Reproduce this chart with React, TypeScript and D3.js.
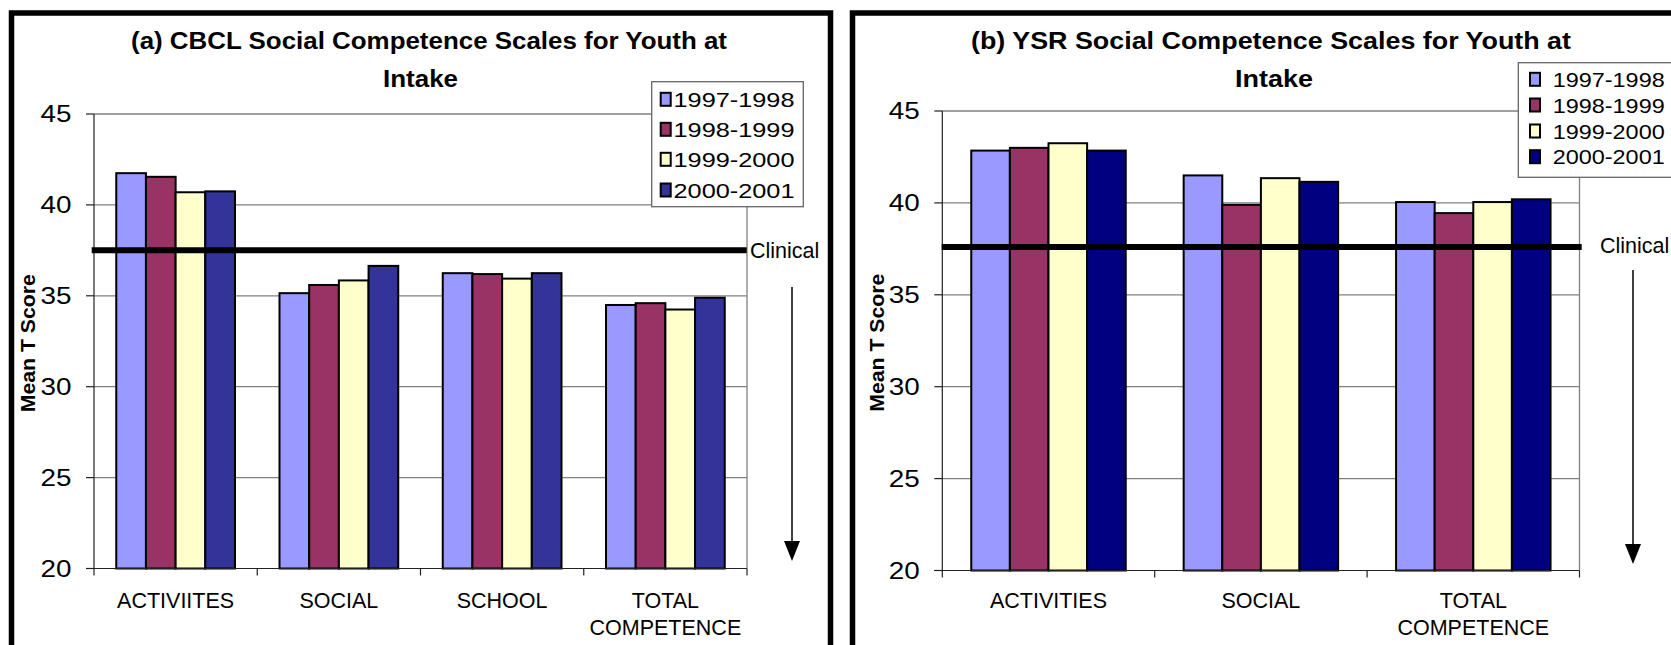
import React from 'react';
import * as d3 from 'd3';

// ---------- data ----------
const seriesNames = ['1997-1998', '1998-1999', '1999-2000', '2000-2001'];

const categoriesA = ['ACTIVIITES', 'SOCIAL', 'SCHOOL', 'TOTAL COMPETENCE'];
const a1997 = [41.8, 35.2, 36.3, 34.55];
const a1998 = [41.6, 35.65, 36.25, 34.65];
const a1999 = [40.75, 35.9, 36.0, 34.3];
const a2000 = [40.8, 36.7, 36.3, 34.95];
const clinicalA = 37.5;

const categoriesB = ['ACTIVITIES', 'SOCIAL', 'TOTAL COMPETENCE'];
const b1997 = [42.9, 41.55, 40.1];
const b1998 = [43.05, 39.95, 39.5];
const b1999 = [43.3, 41.4, 40.1];
const b2000 = [42.9, 41.2, 40.25];
const clinicalB = 37.6;

const yTicks = [20, 25, 30, 35, 40, 45];
const titleA = ['(a) CBCL Social Competence Scales for Youth at', 'Intake'];
const titleB = ['(b) YSR Social Competence Scales for Youth at', 'Intake'];
const yLabel = 'Mean T Score';
const clinicalLabel = 'Clinical';

const colorsA = ['#9999FF', '#993366', '#FFFFCC', '#333399'];
const colorsB = ['#9999FF', '#993366', '#FFFFCC', '#000080'];

const FONT = '"Liberation Sans", Arial, Helvetica, sans-serif';

type Cfg = {
  frameX: number; frameY: number; frameW: number; frameH: number;
  x0: number; x1: number; yTop: number; yBot: number;
  t1x: number; t1len: number; t2x: number; t2len: number;
  legX: number; legY: number; legW: number; legH: number;
  legSwX: number; legTextX: number; legTextLen: number; legRows: number[];
  clinX0: number; clinX1: number; clinTextX: number; clinTextY: number;
  arrowX: number; arrowTop: number; arrowTip: number;
  yLabelX: number;
};

function Panel({ cats, values, colors, clinical, title, cfg }: {
  cats: string[]; values: number[][]; colors: string[]; clinical: number; title: string[]; cfg: Cfg;
}) {
  const x = d3.scaleBand<string>().domain(cats).range([cfg.x0, cfg.x1]).padding(0);
  const bw = x.bandwidth();
  const gap = (bw / 5.5) * 0.75;
  const inner = d3.scaleBand<string>().domain(seriesNames).range([gap, bw - gap]).padding(0);
  const y = d3.scaleLinear().domain([20, 45]).range([cfg.yBot, cfg.yTop]);

  return (
    <g>
      {/* frame */}
      <rect x={cfg.frameX} y={cfg.frameY} width={cfg.frameW} height={cfg.frameH}
        fill="#fff" stroke="#000" strokeWidth={5.5} />
      {/* gridlines */}
      {yTicks.filter(t => t > 20).map(t => (
        <line key={'g' + t} x1={cfg.x0} x2={cfg.x1} y1={y(t)} y2={y(t)} stroke="#808080" strokeWidth={1.3} />
      ))}
      {/* plot right border */}
      <line x1={cfg.x1} x2={cfg.x1} y1={y(45)} y2={y(20)} stroke="#808080" strokeWidth={1.3} />
      {/* bars */}
      {cats.map((c, ci) => seriesNames.map((s, si) => {
        const v = values[si][ci];
        return (
          <rect key={c + s} x={(x(c) as number) + (inner(s) as number)} y={y(v) + 1}
            width={inner.bandwidth()} height={y(20) - y(v) - 1}
            fill={colors[si]} stroke="#000" strokeWidth={2} />
        );
      }))}
      {/* axes */}
      <line x1={cfg.x0} x2={cfg.x0} y1={y(45)} y2={y(20)} stroke="#222" strokeWidth={1.2} />
      <line x1={cfg.x0 - 8} x2={cfg.x1} y1={y(20)} y2={y(20)} stroke="#222" strokeWidth={1.2} />
      {yTicks.map(t => (
        <g key={'t' + t}>
          <line x1={cfg.x0 - 8} x2={cfg.x0} y1={y(t)} y2={y(t)} stroke="#222" strokeWidth={1.2} />
          <text x={cfg.x0 - 22.5} y={y(t) + 8.3} textAnchor="end" fontFamily={FONT} fontSize={23}
            textLength={31} lengthAdjust="spacingAndGlyphs">{t}</text>
        </g>
      ))}
      {d3.range(cats.length + 1).map(i => {
        const xx = cfg.x0 + i * bw;
        return <line key={'xt' + i} x1={xx} x2={xx} y1={y(20)} y2={y(20) + 7} stroke="#222" strokeWidth={1.2} />;
      })}
      {cats.map(c => {
        const lines = c === 'TOTAL COMPETENCE' ? ['TOTAL', 'COMPETENCE'] : [c];
        const cx = (x(c) as number) + bw / 2;
        return (
          <text key={'c' + c} x={cx} y={608} textAnchor="middle" fontFamily={FONT} fontSize={21.5}>
            {lines.map((l, li) => <tspan key={l} x={cx} y={608 + li * 27}>{l}</tspan>)}
          </text>
        );
      })}
      {/* clinical line */}
      <line x1={cfg.clinX0} x2={cfg.clinX1} y1={y(clinical)} y2={y(clinical)} stroke="#000" strokeWidth={6} />
      <text x={cfg.clinTextX} y={cfg.clinTextY} fontFamily={FONT} fontSize={21.5}>{clinicalLabel}</text>
      {/* arrow */}
      <line x1={cfg.arrowX} x2={cfg.arrowX} y1={cfg.arrowTop} y2={cfg.arrowTip - 10} stroke="#000" strokeWidth={1.5} />
      <path d={`M${cfg.arrowX - 8},${cfg.arrowTip - 20} L${cfg.arrowX + 8},${cfg.arrowTip - 20} L${cfg.arrowX},${cfg.arrowTip} Z`} fill="#000" />
      {/* y label */}
      <text transform={`translate(${cfg.yLabelX},${(cfg.yTop + cfg.yBot) / 2 + 2}) rotate(-90)`}
        textAnchor="middle" fontFamily={FONT} fontSize={20} fontWeight="bold"
        textLength={138} lengthAdjust="spacingAndGlyphs">{yLabel}</text>
      {/* title */}
      <text x={cfg.t1x} y={48.5} textAnchor="middle" fontFamily={FONT} fontSize={23} fontWeight="bold"
        textLength={cfg.t1len} lengthAdjust="spacingAndGlyphs">{title[0]}</text>
      <text x={cfg.t2x} y={87} textAnchor="middle" fontFamily={FONT} fontSize={23} fontWeight="bold"
        textLength={cfg.t2len} lengthAdjust="spacingAndGlyphs">{title[1]}</text>
      {/* legend */}
      <rect x={cfg.legX} y={cfg.legY} width={cfg.legW} height={cfg.legH} fill="#fff" stroke="#666" strokeWidth={1.3} />
      {seriesNames.map((s, si) => (
        <g key={'l' + s}>
          <rect x={cfg.legSwX} y={cfg.legRows[si] - 6.5} width={10} height={13} fill={colors[si]} stroke="#000" strokeWidth={2} />
          <text x={cfg.legTextX} y={cfg.legRows[si] + 7.5} fontFamily={FONT} fontSize={21}
            textLength={cfg.legTextLen} lengthAdjust="spacingAndGlyphs">{s}</text>
        </g>
      ))}
    </g>
  );
}

const cfgA: Cfg = {
  frameX: 11.5, frameY: 13, frameW: 819, frameH: 700,
  x0: 94, x1: 747, yTop: 114, yBot: 568.5,
  t1x: 429, t1len: 596, t2x: 420.5, t2len: 75,
  legX: 651.7, legY: 81.7, legW: 151.6, legH: 125,
  legSwX: 660.7, legTextX: 673.5, legTextLen: 121, legRows: [99.3, 129.3, 159.3, 190],
  clinX0: 91.7, clinX1: 746.7, clinTextX: 750, clinTextY: 258,
  arrowX: 792, arrowTop: 287, arrowTip: 561,
  yLabelX: 35,
};

const cfgB: Cfg = {
  frameX: 852.5, frameY: 13, frameW: 900, frameH: 700,
  x0: 942.3, x1: 1579.5, yTop: 111, yBot: 570.5,
  t1x: 1271, t1len: 600, t2x: 1274, t2len: 78,
  legX: 1518.3, legY: 62.7, legW: 200, legH: 114.6,
  legSwX: 1530, legTextX: 1552.7, legTextLen: 112, legRows: [79.3, 105, 131, 156.7],
  clinX0: 941.7, clinX1: 1581.7, clinTextX: 1600, clinTextY: 253,
  arrowX: 1633, arrowTop: 270, arrowTip: 564,
  yLabelX: 884,
};

export default function App() {
  return (
    <svg width={1671} height={645} style={{ position: 'absolute', left: 0, top: 0, background: '#fff' }}>
      <rect x={0} y={0} width={1671} height={645} fill="#fff" />
      <Panel cats={categoriesA} values={[a1997, a1998, a1999, a2000]} colors={colorsA}
        clinical={clinicalA} title={titleA} cfg={cfgA} />
      <Panel cats={categoriesB} values={[b1997, b1998, b1999, b2000]} colors={colorsB}
        clinical={clinicalB} title={titleB} cfg={cfgB} />
    </svg>
  );
}
